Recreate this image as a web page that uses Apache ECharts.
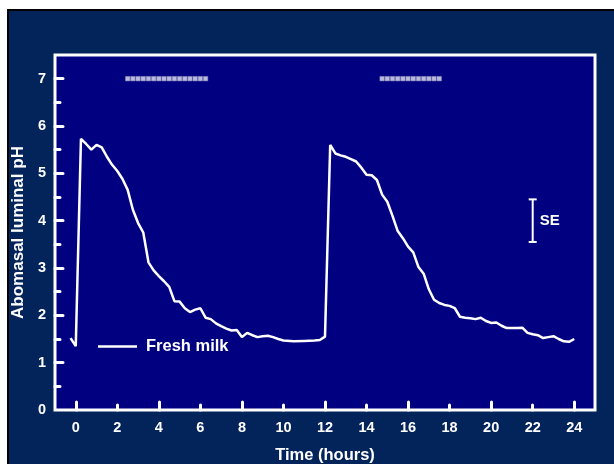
<!DOCTYPE html>
<html>
<head>
<meta charset="utf-8">
<title>Abomasal luminal pH</title>
<script src="https://cdn.jsdelivr.net/npm/echarts@6/dist/echarts.min.js"></script>
<style>
  html, body { margin: 0; padding: 0; background: #ffffff; }
  #frame {
    position: absolute; left: 7px; top: 9px; right: 0; bottom: 0;
    background: #03235b; border-left: 2px solid #000; border-top: 2px solid #000;
  }
  #chart { position: absolute; left: 0; top: 0; width: 614px; height: 464px; }
</style>
</head>
<body>
<div id="frame"></div>
<div id="chart"></div>
<script>
// Sampling times (h) and abomasal pH after two fresh-milk feeds
const hours = [
  -0.25, 0, 0.25, 0.5, 0.75, 1.0, 1.25, 1.5, 1.75, 2.0, 2.25, 2.5, 2.75, 3.0, 3.25, 3.5, 3.75,
  4.0, 4.25, 4.5, 4.75, 5.0, 5.25, 5.5, 5.75, 6.0, 6.25, 6.5, 6.75, 7.0, 7.25, 7.5, 7.75,
  8.0, 8.25, 8.5, 8.75, 9.0, 9.25, 9.5, 9.75, 10.0, 10.5, 11.0, 11.5, 11.75, 12.0,
  12.25, 12.5, 12.75, 13.0, 13.25, 13.5, 13.75, 14.0, 14.25, 14.5, 14.75, 15.0, 15.25, 15.5,
  15.75, 16.0, 16.25, 16.5, 16.75, 17.0, 17.25, 17.5, 17.75, 18.0, 18.25, 18.5, 18.75, 19.0,
  19.25, 19.5, 19.75, 20.0, 20.25, 20.5, 20.75, 21.0, 21.25, 21.5, 21.75, 22.0, 22.25, 22.5,
  22.75, 23.0, 23.25, 23.5, 23.75, 24.0
];
const ph = [
  1.52, 1.35, 5.73, 5.62, 5.50, 5.60, 5.55, 5.35, 5.18, 5.05, 4.88, 4.65, 4.23, 3.95, 3.75, 3.12, 2.95,
  2.83, 2.72, 2.60, 2.30, 2.29, 2.15, 2.07, 2.12, 2.15, 1.95, 1.92, 1.83, 1.77, 1.72, 1.68, 1.69,
  1.54, 1.63, 1.58, 1.54, 1.56, 1.57, 1.54, 1.50, 1.47, 1.45, 1.46, 1.47, 1.48, 1.55,
  5.60, 5.42, 5.38, 5.35, 5.30, 5.25, 5.12, 4.97, 4.96, 4.86, 4.55, 4.40, 4.10, 3.78,
  3.63, 3.45, 3.33, 3.02, 2.88, 2.55, 2.33, 2.26, 2.22, 2.20, 2.15, 1.97, 1.95, 1.94,
  1.92, 1.95, 1.88, 1.84, 1.85, 1.78, 1.73, 1.73, 1.73, 1.74, 1.63, 1.60, 1.58, 1.52,
  1.54, 1.56, 1.50, 1.45, 1.44, 1.50
];

// Time points flagged along the top of the plot
const flagTimesA = [2.5, 2.75, 3.0, 3.25, 3.5, 3.75, 4.0, 4.25, 4.5, 4.75, 5.0, 5.25, 5.5, 5.75, 6.0, 6.25];
const flagTimesB = [14.75, 15.0, 15.25, 15.5, 15.75, 16.0, 16.25, 16.5, 16.75, 17.0, 17.25, 17.5];
const flagLevel = 7;

// Standard-error bar: [x, centre, half-length]
const seBar = [[22, 4.0, 0.45]];

// Tick positions
const xLabelTicks = [0, 2, 4, 6, 8, 10, 12, 14, 16, 18, 20, 22, 24];
const xMajorTicks = [0, 4, 8, 12, 16, 20, 24];
const xMinorTicks = [2, 6, 10, 14, 18, 22];
const yLabelTicks = [0, 1, 2, 3, 4, 5, 6, 7];
const yMajorTicks = [1, 2, 3, 4, 5, 6, 7];
const yMinorTicks = [0.5, 1.5, 2.5, 3.5, 4.5, 5.5, 6.5];

const FONT = '"Liberation Sans", Arial, sans-serif';
const WHITE = '#ffffff';

const lineData = hours.map((h, i) => [h, ph[i]]);
const flagData = flagTimesA.concat(flagTimesB).map(t => [t, flagLevel]);

const tickStyle = { color: WHITE, width: 3, cap: 'round' };
const hiddenLine = { show: false, onZero: false };

const chart = echarts.init(document.getElementById('chart'), null, { renderer: 'canvas' });

chart.setOption({
  animation: false,
  backgroundColor: 'transparent',
  textStyle: { fontFamily: FONT },
  grid: {
    left: 55, top: 55, right: 19, bottom: 54,
    outerBoundsMode: 'none',
    show: true, backgroundColor: '#000080', borderColor: WHITE, borderWidth: 3
  },
  legend: {
    left: 93, top: 333,
    icon: 'rect',
    itemWidth: 39, itemHeight: 2.5,
    data: ['Fresh milk'],
    textStyle: { color: WHITE, fontSize: 16.5, fontWeight: 'bold', fontFamily: FONT, padding: [0, 0, 0, 4] },
    selectedMode: false
  },
  xAxis: [{
    type: 'value', min: -1, max: 25,
    name: 'Time (hours)', nameLocation: 'middle', nameGap: 37,
    nameTextStyle: { color: WHITE, fontSize: 16.5, fontWeight: 'bold', fontFamily: FONT },
    axisLine: hiddenLine,
    splitLine: { show: false },
    axisTick: { show: true, inside: true, length: 8, customValues: xMajorTicks, lineStyle: tickStyle },
    axisLabel: { show: true, customValues: xLabelTicks, margin: 10, color: WHITE, fontSize: 14.5, fontWeight: 'bold', fontFamily: FONT }
  }, {
    type: 'value', min: -1, max: 25, position: 'bottom',
    axisLine: hiddenLine, splitLine: { show: false }, axisLabel: { show: false },
    axisTick: { show: true, inside: true, length: 5, customValues: xMinorTicks, lineStyle: tickStyle }
  }],
  yAxis: [{
    type: 'value', min: 0, max: 7.5,
    name: 'Abomasal luminal pH', nameLocation: 'middle', nameGap: 24,
    nameTextStyle: { color: WHITE, fontSize: 17, fontWeight: 'bold', fontFamily: FONT },
    axisLine: hiddenLine,
    splitLine: { show: false },
    axisTick: { show: true, inside: true, length: 8, customValues: yMajorTicks, lineStyle: tickStyle },
    axisLabel: { show: true, customValues: yLabelTicks, margin: 9, color: WHITE, fontSize: 14.5, fontWeight: 'bold', fontFamily: FONT }
  }, {
    type: 'value', min: 0, max: 7.5, position: 'left',
    axisLine: hiddenLine, splitLine: { show: false }, axisLabel: { show: false },
    axisTick: { show: true, inside: true, length: 5, customValues: yMinorTicks, lineStyle: tickStyle }
  }],
  series: [{
    name: 'Fresh milk',
    type: 'line',
    data: lineData,
    showSymbol: false,
    symbol: 'none',
    lineStyle: { color: WHITE, width: 2.5 },
    itemStyle: { color: WHITE },
    z: 5
  }, {
    name: 'flags',
    type: 'scatter',
    data: flagData,
    symbol: 'rect',
    symbolSize: 4.5,
    itemStyle: { color: '#e8e8f4', borderColor: '#8a8ac0', borderWidth: 0.6 },
    silent: true
  }, {
    name: 'SE',
    type: 'custom',
    data: seBar,
    silent: true,
    renderItem: function (params, api) {
      const x = api.value(0), m = api.value(1), h = api.value(2);
      const top = api.coord([x, m + h]);
      const bot = api.coord([x, m - h]);
      const mid = api.coord([x, m]);
      const st = { stroke: WHITE, lineWidth: 2 };
      return {
        type: 'group',
        children: [
          { type: 'line', shape: { x1: top[0], y1: top[1], x2: bot[0], y2: bot[1] }, style: st },
          { type: 'line', shape: { x1: top[0] - 4, y1: top[1], x2: top[0] + 4, y2: top[1] }, style: st },
          { type: 'line', shape: { x1: bot[0] - 4, y1: bot[1], x2: bot[0] + 4, y2: bot[1] }, style: st },
          { type: 'text', x: mid[0] + 7, y: mid[1],
            style: { text: 'SE', fill: WHITE, font: 'bold 15px ' + FONT, verticalAlign: 'middle', align: 'left' } }
        ]
      };
    }
  }]
});
</script>
</body>
</html>
